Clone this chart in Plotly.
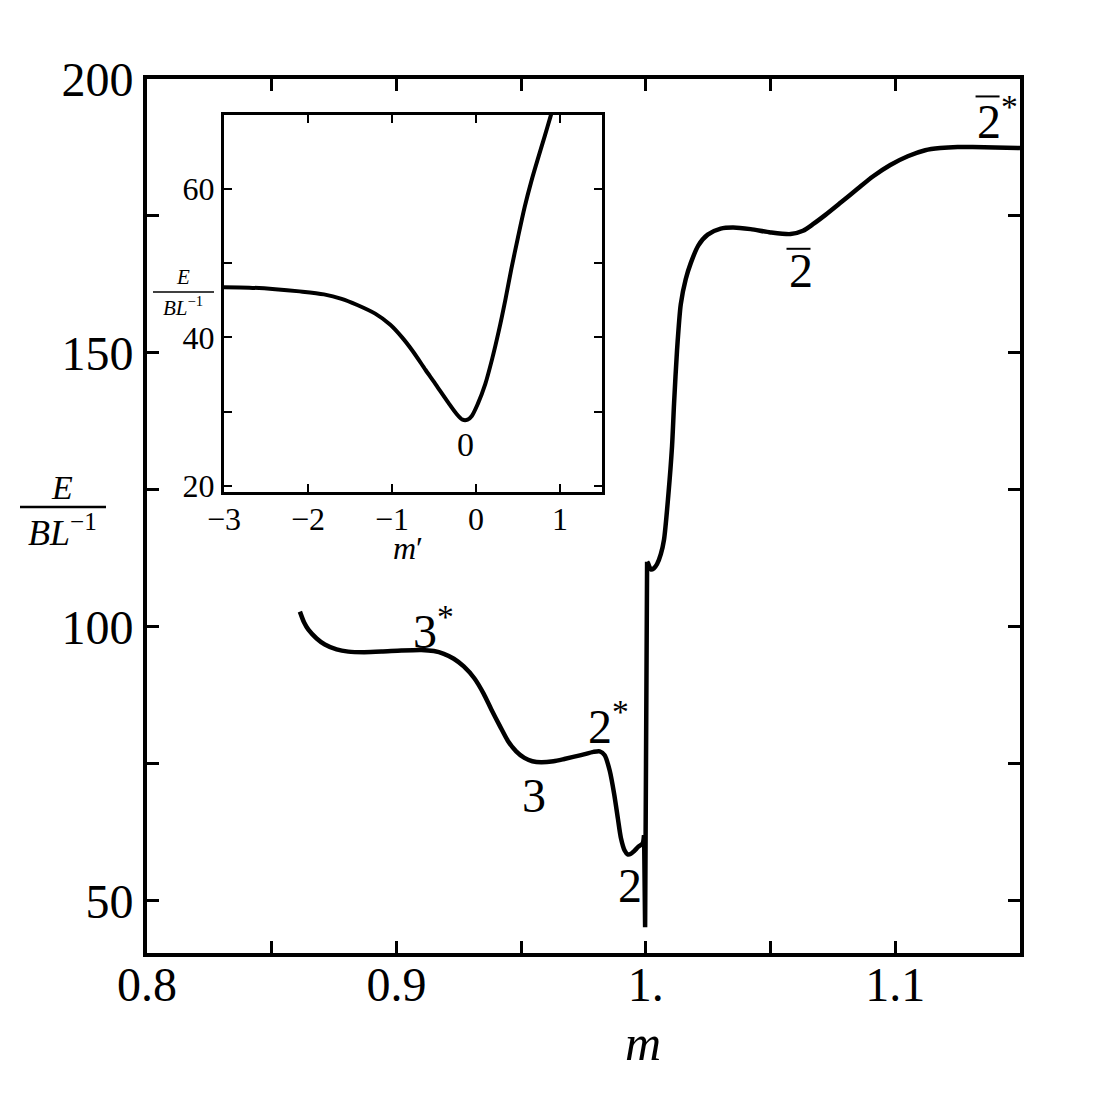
import plotly.graph_objects as go

# main curve: energy vs m
m_main = [0.8613, 0.8630, 0.8647, 0.8680, 0.8713, 0.8760, 0.8807, 0.8870, 0.8940,
          0.9020, 0.9100, 0.9150, 0.9190, 0.9230, 0.9270, 0.9313, 0.9350, 0.9380,
          0.9415, 0.9447, 0.9480, 0.9513, 0.9545, 0.9580, 0.9630, 0.9673, 0.9740,
          0.9790, 0.9815, 0.9835, 0.9855, 0.9873, 0.9888, 0.9900, 0.9915, 0.9927,
          0.9940, 0.9953, 0.9970, 0.9987, 0.9993, 0.9997, 1.0005, 1.0009, 1.0020,
          1.0032, 1.0045, 1.0060, 1.0073, 1.0090, 1.0105, 1.0113, 1.0125, 1.0140,
          1.0160, 1.0180, 1.0210, 1.0248, 1.0300, 1.0350, 1.0420, 1.0500, 1.0580,
          1.0630, 1.0670, 1.0720, 1.0780, 1.0850, 1.0910, 1.0980, 1.1050, 1.1120,
          1.1180, 1.1250, 1.1310, 1.1400, 1.1500]
e_main = [102.8, 100.8, 99.5, 97.9, 96.8, 95.9, 95.5, 95.4, 95.5,
          95.7, 95.8, 95.6, 95.1, 94.2, 92.8, 90.6, 87.8, 85.0,
          81.9, 79.2, 77.3, 76.1, 75.5, 75.3, 75.5, 75.9, 76.6,
          77.2, 77.3, 76.6, 73.8, 69.5, 65.0, 61.5, 59.2, 58.5,
          58.6, 59.1, 59.9, 60.5, 62.0, 45.2, 111.9, 111.6, 110.5,
          110.7, 111.5, 113.3, 116.0, 124.0, 133.0, 140.7, 150.5, 158.9,
          163.5, 166.4, 169.6, 171.6, 172.7, 172.9, 172.6, 172.0, 171.7,
          172.3, 173.5, 175.2, 177.4, 180.0, 182.2, 184.3, 185.9, 187.0,
          187.4, 187.6, 187.6, 187.5, 187.4]

# inset curve: energy vs m'
m_inset = [-3.0, -2.7, -2.39, -2.1, -1.81, -1.6, -1.42, -1.2, -1.02, -0.88, -0.75,
           -0.6, -0.5, -0.44, -0.33, -0.24, -0.16, -0.10, -0.05, 0.02, 0.11, 0.19,
           0.27, 0.35, 0.42, 0.50, 0.58, 0.66, 0.74, 0.82, 0.89, 0.92]
e_inset = [46.75, 46.7, 46.5, 46.2, 45.8, 45.2, 44.4, 43.2, 41.7, 40.0, 38.1,
           35.6, 34.0, 33.0, 31.2, 29.8, 28.9, 28.9, 29.4, 31.0, 33.7, 37.0,
           40.8, 45.1, 49.2, 53.5, 57.6, 61.1, 64.2, 67.2, 69.9, 71.0]

main_xticks = [0.8, 0.85, 0.9, 0.95, 1.0, 1.05, 1.1, 1.15]
main_xticktext = ["0.8", "", "0.9", "", "1.", "", "1.1", ""]
main_yticks = [50, 75, 100, 125, 150, 175, 200]
main_yticktext = ["50", "", "100", "", "150", "", "200"]
inset_xticks = [-3, -2, -1, 0, 1]
inset_xticktext = ["\u22123", "\u22122", "\u22121", "0", "1"]
inset_yticks = [20, 30, 40, 50, 60]
inset_yticktext = ["20", "", "40", "", "60"]

# state labels (x, y, text, has bar)
main_labels = [
    (0.915, 99.8, "3<sup>*</sup>", False),
    (0.955, 69.3, "3", False),
    (0.985, 82.5, "2<sup>*</sup>", False),
    (0.9935, 52.9, "2", False),
    (1.062, 165.0, "2", True),
    (1.141, 192.8, "2<sup>*</sup>", True),
]

FONT = "Liberation Serif"
SPIKE = 40  # index where the near-vertical jump at m = 1 starts

fig = go.Figure()
line_main = dict(color="black", width=4.5)
fig.add_trace(go.Scatter(x=m_main[:SPIKE + 1], y=e_main[:SPIKE + 1], mode="lines",
                         line=dict(line_main, shape="spline", smoothing=0.7),
                         showlegend=False))
fig.add_trace(go.Scatter(x=m_main[SPIKE:SPIKE + 3], y=e_main[SPIKE:SPIKE + 3], mode="lines",
                         line=line_main, showlegend=False))
fig.add_trace(go.Scatter(x=m_main[SPIKE + 2:], y=e_main[SPIKE + 2:], mode="lines",
                         line=dict(line_main, shape="spline", smoothing=0.7),
                         showlegend=False))
fig.add_trace(go.Scatter(x=m_inset, y=e_inset, mode="lines",
                         line=dict(color="black", width=4, shape="spline", smoothing=0.8),
                         xaxis="x2", yaxis="y2", showlegend=False))

axis_common = dict(showgrid=False, zeroline=False, showline=True, linecolor="black",
                   ticks="inside", mirror="allticks", tickcolor="black",
                   tickmode="array")

fig.update_layout(
    width=1100, height=1100,
    margin=dict(l=139, r=88, t=71, b=155),
    paper_bgcolor="white", plot_bgcolor="white",
    font=dict(family=FONT, color="black"),
    xaxis=dict(axis_common, range=[0.8, 1.15], domain=[0, 1], linewidth=4,
               ticklen=12, tickwidth=3, tickvals=main_xticks, ticktext=main_xticktext,
               tickfont=dict(size=48, family=FONT), ticklabelstandoff=-14, anchor="y"),
    yaxis=dict(axis_common, range=[40.5, 200], domain=[0, 1], linewidth=4,
               ticklen=12, tickwidth=3, tickvals=main_yticks, ticktext=main_yticktext,
               tickfont=dict(size=48, family=FONT), anchor="x"),
    xaxis2=dict(axis_common, range=[-3, 1.5], domain=[0.0882, 0.5212], linewidth=3,
                ticklen=8, tickwidth=2, tickvals=inset_xticks, ticktext=inset_xticktext,
                tickfont=dict(size=32, family=FONT), ticklabelstandoff=-4, anchor="y2"),
    yaxis2=dict(axis_common, range=[19.1, 70], domain=[0.527, 0.959], linewidth=3,
                ticklen=8, tickwidth=2, tickvals=inset_yticks, ticktext=inset_yticktext,
                tickfont=dict(size=32, family=FONT), anchor="x2"),
)


def px_x(px):
    return (px - 147) / 873


def px_y(py):
    return (953 - py) / 874


annotations = []
for x, y, t, bar in main_labels:
    annotations.append(dict(x=x, y=y, xref="x", yref="y", text=t, showarrow=False,
                            xanchor="center", yanchor="middle",
                            font=dict(size=48, family=FONT)))
    if bar:
        # overbar of the label (\bar{2})
        fig.add_shape(type="line", xref="x", yref="y", xsizemode="pixel", ysizemode="pixel",
                      xanchor=x, yanchor=y, x0=-14 if "*" not in t else -22,
                      x1=10 if "*" not in t else 2, y0=22, y1=22,
                      line=dict(color="black", width=2))
annotations.append(dict(x=-0.12, y=25.5, xref="x2", yref="y2", text="0", showarrow=False,
                        xanchor="center", yanchor="middle",
                        font=dict(size=34, family=FONT)))

# axis titles, placed in screen pixels
titles = [
    (643, 1043, "<i>m</i>", 50),
    (62, 487, "<i>E</i>", 34),
    (62, 530, "<i>BL</i><sup>\u22121</sup>", 36),
    (408, 548, "<i>m</i>\u2032", 32),
    (183, 277, "<i>E</i>", 21),
    (183, 306, "<i>BL</i><sup>\u22121</sup>", 21),
]
for x, y, t, s in titles:
    annotations.append(dict(x=px_x(x), y=px_y(y), xref="paper", yref="paper", text=t,
                            showarrow=False, xanchor="center", yanchor="middle",
                            font=dict(size=s, family=FONT)))
fig.update_layout(annotations=annotations)

# fraction bars
fig.add_shape(type="line", xref="paper", yref="paper",
              x0=px_x(20), x1=px_x(106), y0=px_y(507), y1=px_y(507),
              line=dict(color="black", width=2.5))
fig.add_shape(type="line", xref="paper", yref="paper",
              x0=px_x(153), x1=px_x(214), y0=px_y(292), y1=px_y(292),
              line=dict(color="black", width=1.5))

fig.write_html("out.html")
